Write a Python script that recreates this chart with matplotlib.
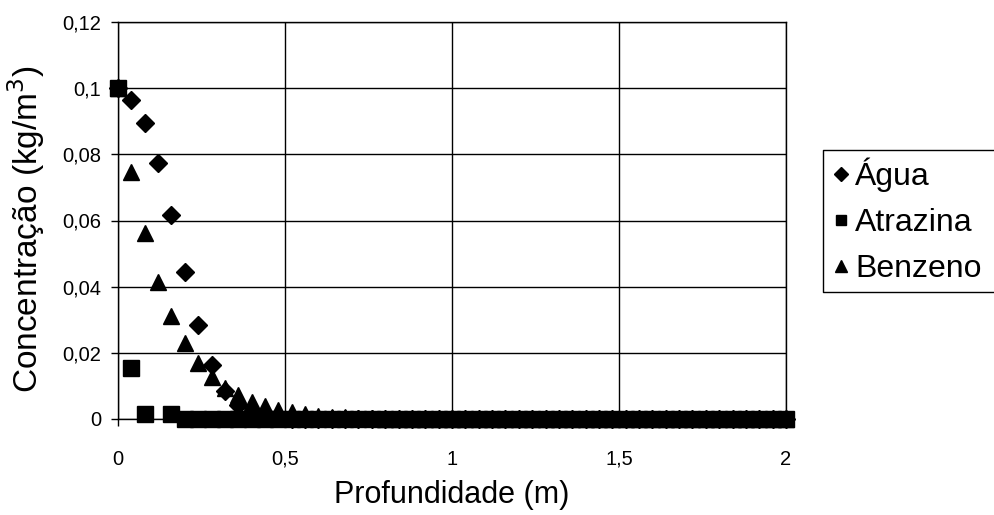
import numpy as np
import matplotlib
matplotlib.use("Agg")
import matplotlib.pyplot as plt
from matplotlib.lines import Line2D
from matplotlib.ticker import FuncFormatter

plt.rcParams['font.family'] = ['Liberation Sans', 'DejaVu Sans']

# profundidade (m), passo de 0,04
depth = [round(0.04 * i, 2) for i in range(51)]

agua = [0.1, 0.0965, 0.0895, 0.0775, 0.0617, 0.0445, 0.0285, 0.0163, 0.0085,
        0.0042, 0.0019, 0.0008, 0.0003, 0.0001] + [0.0] * 37

benzeno = [0.1, 0.0747, 0.0562, 0.0415, 0.031, 0.023, 0.017, 0.0127, 0.0095,
           0.0072, 0.0052, 0.0038, 0.0028, 0.002, 0.0014, 0.001, 0.0007,
           0.0005, 0.0003, 0.0002, 0.0001] + [0.0] * 30

# atrazina: sem ponto em 0,12 m
atrazina_depth = [d for d in depth if d != 0.12]
atrazina = [0.1, 0.0155, 0.0016, 0.0014] + [0.0] * 46

y_ticks = [0, 0.02, 0.04, 0.06, 0.08, 0.1, 0.12]
x_ticks = [0, 0.5, 1, 1.5, 2]


def comma(v, pos=None):
    return ('%g' % v).replace('.', ',')


fig = plt.figure(figsize=(9.95, 5.15), dpi=100)
ax = fig.add_axes([118 / 995, 1 - 419 / 515, (786 - 118) / 995, (419 - 22) / 515])

ax.plot(depth, agua, linestyle='none', marker='D', markersize=9.5,
        color='black', clip_on=False, label='Água', zorder=3)
ax.plot(atrazina_depth, atrazina, linestyle='none', marker='s', markersize=11,
        color='black', clip_on=False, label='Atrazina', zorder=3)
ax.plot(depth, benzeno, linestyle='none', marker='^', markersize=11.5,
        color='black', clip_on=False, label='Benzeno', zorder=3)

ax.set_xlim(0, 2)
ax.set_ylim(0, 0.12)
ax.set_xticks(x_ticks)
ax.set_yticks(y_ticks)
ax.xaxis.set_major_formatter(FuncFormatter(comma))
ax.yaxis.set_major_formatter(FuncFormatter(comma))
ax.tick_params(axis='both', direction='out', length=5, width=1, colors='black',
               labelsize=14.5)
ax.tick_params(axis='x', pad=17)
ax.tick_params(axis='y', pad=7)
ax.grid(True, color='black', linewidth=1)
ax.set_axisbelow(True)
for sp in ax.spines.values():
    sp.set_color('black')
    sp.set_linewidth(1)

ax.set_xlabel('Profundidade (m)', fontsize=22, labelpad=8)
ax.set_ylabel('Concentração (kg/m$^3$)', fontsize=24)
ax.yaxis.set_label_coords(-0.106, 0.478)

leg = fig.legend(loc='upper left', bbox_to_anchor=(823 / 995, 1 - 150 / 515),
                 frameon=False, fontsize=23, handletextpad=0.15,
                 handlelength=0.6, markerscale=0.7, borderpad=0.25,
                 labelspacing=0.5, borderaxespad=0)

# moldura da legenda aberta à direita (cortada pela borda, como no original)
fig.canvas.draw()
bb = leg.get_window_extent().transformed(fig.transFigure.inverted())
fig.add_artist(Line2D([1.0, bb.x0, bb.x0, 1.0], [bb.y1, bb.y1, bb.y0, bb.y0],
                      transform=fig.transFigure, color='black', linewidth=1))

fig.savefig('out.png', dpi=100)
